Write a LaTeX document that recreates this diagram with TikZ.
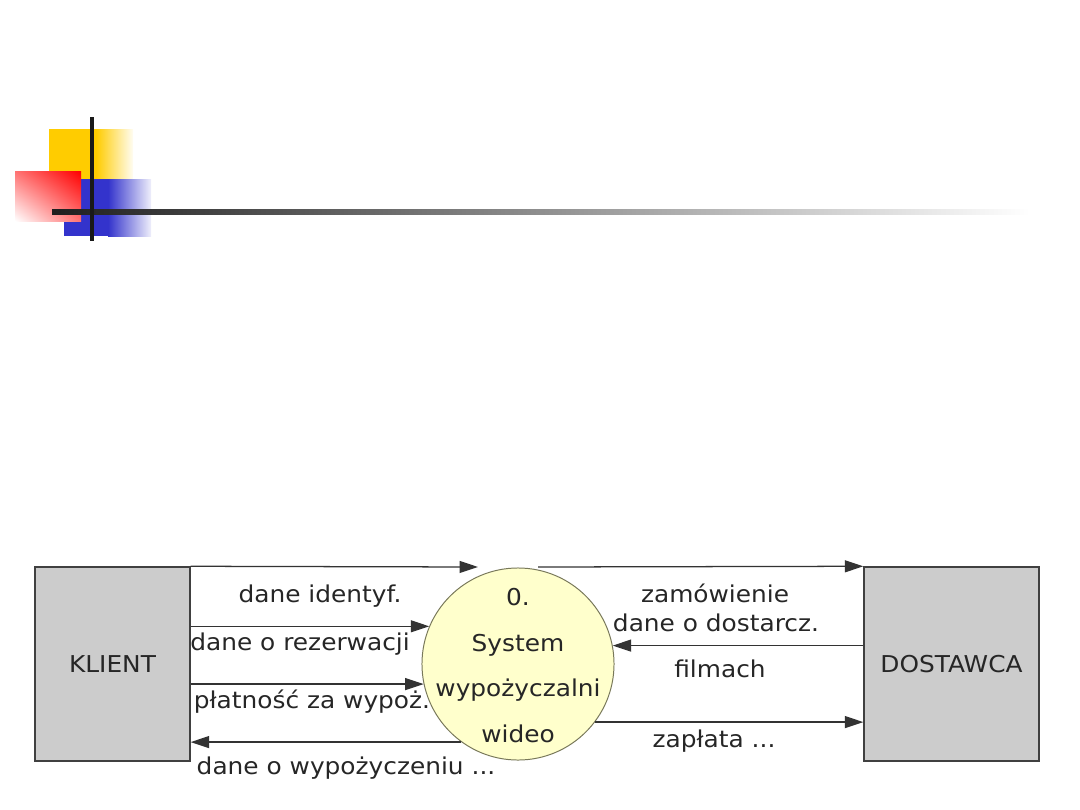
\documentclass[tikz,border=0pt]{standalone}
\usepackage{fontspec}
\setmainfont{DejaVu Sans}[FakeStretch=1.07]
\usetikzlibrary{arrows.meta,shadings}
\definecolor{logoyellow}{RGB}{255,204,0}
\definecolor{logoblue}{RGB}{51,51,204}
\definecolor{procfill}{RGB}{255,255,204}
\definecolor{procline}{RGB}{120,120,90}

\begin{document}
\begin{tikzpicture}[x=0.025cm,y=-0.025cm,
    every node/.style={font=\fontsize{16.5}{32.6}\selectfont,text=black!85},
    ent/.style={draw=black!75,line width=1pt,fill=black!20,minimum height=4.85cm,inner sep=0pt},
    proc/.style={circle,draw=procline,line width=0.7pt,fill=procfill,minimum size=4.8cm,inner sep=0pt},
    flow/.style={draw=black!80,line width=0.9pt,-{Triangle[length=0.46cm,width=0.3cm]}},
    lbl/.style={anchor=base}]
  \useasboundingbox (0,0) rectangle (1080,810);
  \fill[logoyellow] (49,129) rectangle (96,179);
  \shade[left color=logoyellow,right color=logoyellow!5] (96,129) rectangle (133,179);
  \fill[logoblue] (64,179) rectangle (108,236);
  \shade[left color=logoblue,right color=logoblue!8] (108,179) rectangle (151,236);
  \shade[upper right=red,lower left=white,upper left=red!55,lower right=red!55] (15,171) rectangle (81,221);
  \shade[left color=black!88,right color=white] (52,209.5) rectangle (1030,214.5);
  \fill[black!90] (90,117) rectangle (94,241);

  \node[ent,minimum width=3.875cm] (klient) at (112.5,664) {KLIENT};
  \node[ent,minimum width=4.375cm] (dostawca) at (951.5,664) {DOSTAWCA};
  \node[proc] (sys) at (518,664) {};
  \node[align=center,inner sep=0pt] (systxt) at (518,665.5) {0.\\System\\wypożyczalni\\wideo};
  \coordinate (k1) at (478,567);
  \coordinate (d1) at (538,567);
  \draw[flow] (klient.north east) -- (k1);
  \draw[flow] (d1) -- (dostawca.north west);
  \draw[flow] (klient.east |- sys.157) -- (sys.157);
  \draw[flow] (klient.east |- sys.192) -- (sys.192);
  \draw[flow] (sys.234) -- (sys.234 -| klient.east);
  \draw[flow] (dostawca.west |- sys.11) -- (sys.11);
  \draw[flow] (sys.-37) -- (sys.-37 -| dostawca.west);
  \foreach \n/\x/\y/\t in {1/320/602/{dane identyf.}, 2/300/650/{dane o rezerwacji},
      3/312/708/{płatność za wypoż.}, 4/346/774/{dane o wypożyczeniu ...},
      5/715/602/{zamówienie}, 6/716/631/{dane o dostarcz.}, 7/720/677/{filmach}, 8/714/747/{zapłata ...}}
    \node[lbl] (lab\n) at (\x,\y) {\t};
\end{tikzpicture}
\end{document}
